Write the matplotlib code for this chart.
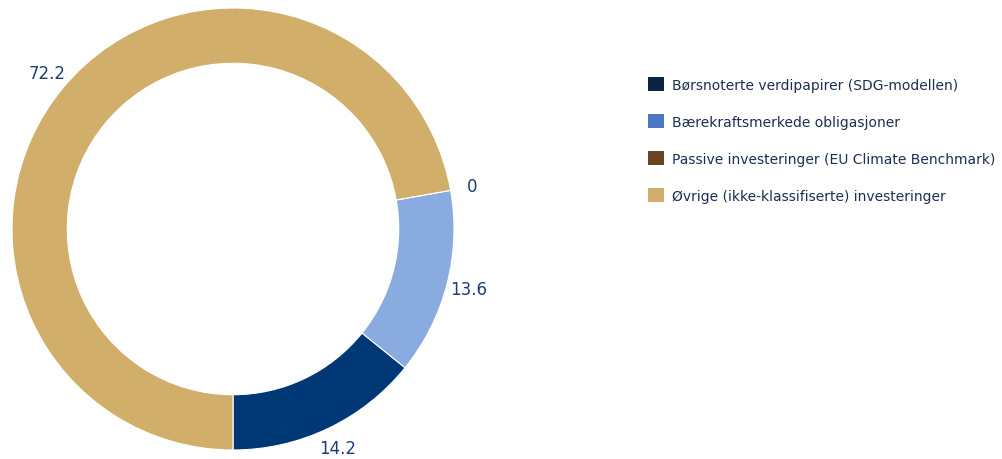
import numpy as np
import matplotlib.pyplot as plt
from matplotlib.patches import Patch

# Andel av investeringene (prosent)
categories = [
    "Børsnoterte verdipapirer (SDG-modellen)",
    "Bærekraftsmerkede obligasjoner",
    "Passive investeringer (EU Climate Benchmark)",
    "Øvrige (ikke-klassifiserte) investeringer",
]
values = [14.2, 13.6, 0, 72.2]
value_labels = ["14.2", "13.6", "0", "72.2"]

wedge_colors = ["#003876", "#8aabe0", "#6b4521", "#d1ae6a"]
legend_colors = ["#0b2342", "#4a77c6", "#6b4521", "#d1ae6a"]
label_color = "#1c3d78"
text_color = "#1b2f52"

fig = plt.figure(figsize=(10.03, 4.6), dpi=100)

# donut axes: centre ca. (233, 230) px, radius ca. 221 px
ax = fig.add_axes([12 / 1003, 9 / 460, 442 / 1003, 442 / 460])
wedges, texts = ax.pie(
    values,
    colors=wedge_colors,
    startangle=-90,
    counterclock=True,
    labels=value_labels,
    labeldistance=1.1,
    wedgeprops=dict(width=0.25, edgecolor="white", linewidth=0.8),
    textprops=dict(color=label_color, fontsize=12),
)
for t in texts:
    t.set_horizontalalignment("center")
    t.set_verticalalignment("center")
ax.set_xlim(-1, 1)
ax.set_ylim(-1, 1)
ax.set_aspect("equal")

handles = [Patch(facecolor=c, edgecolor="none") for c in legend_colors]
fig.legend(
    handles,
    categories,
    loc="upper left",
    bbox_to_anchor=(648 / 1003, 1 - 78 / 460),
    frameon=False,
    fontsize=10,
    labelcolor=text_color,
    handlelength=1.15,
    handleheight=1.15,
    handletextpad=0.6,
    labelspacing=1.62,
    borderpad=0,
    borderaxespad=0,
)

fig.savefig("out.png", dpi=100)
